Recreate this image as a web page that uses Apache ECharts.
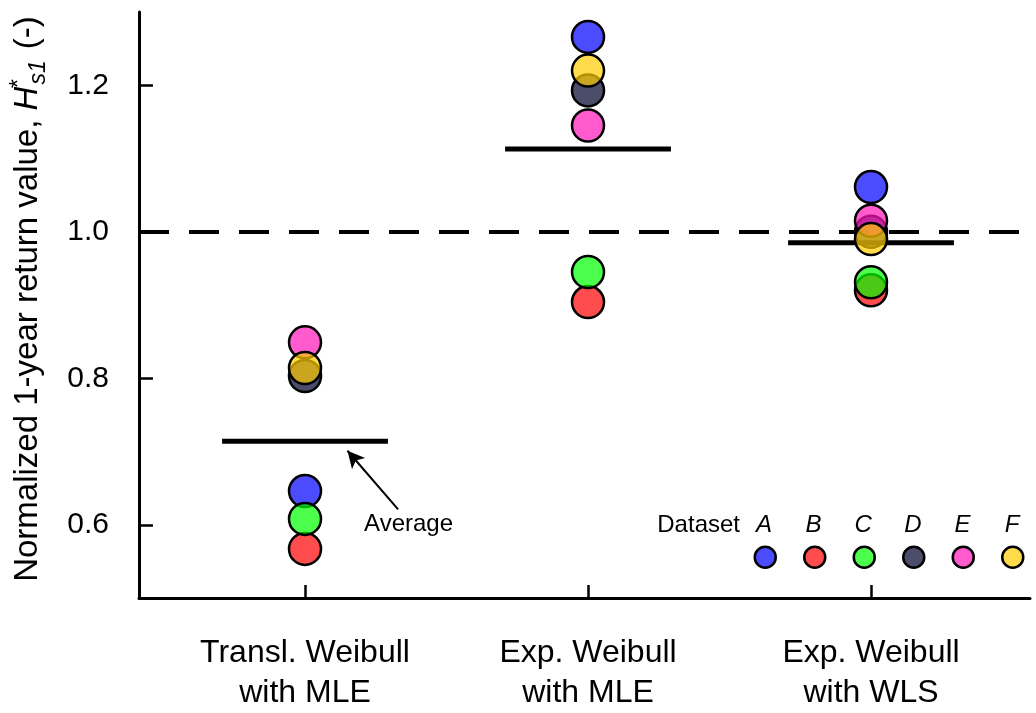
<!DOCTYPE html>
<html><head><meta charset="utf-8">
<script src="https://cdn.jsdelivr.net/npm/echarts@6/dist/echarts.min.js"></script>
<style>html,body{margin:0;padding:0;background:#fff}#c{width:1036px;height:713px}</style>
</head><body><div id="c"></div>
<script>
const categories = ['Transl. Weibull\nwith MLE', 'Exp. Weibull\nwith MLE', 'Exp. Weibull\nwith WLS'];
const categoryPos = [1, 2, 3];
const datasetNames = ['A', 'B', 'C', 'D', 'E', 'F'];
const datasetColors = ['rgba(0,0,255,0.7)', 'rgba(255,0,0,0.7)', 'rgba(0,255,0,0.7)',
                       'rgba(0,0,44,0.7)', 'rgba(255,22,186,0.7)', 'rgba(255,204,0,0.7)'];
const valuesA = [0.646, 1.266, 1.061];
const valuesB = [0.567, 0.904, 0.920];
const valuesC = [0.608, 0.945, 0.931];
const valuesD = [0.803, 1.193, 1.000];
const valuesE = [0.849, 1.145, 1.015];
const valuesF = [0.814, 1.220, 0.990];
const averages = [0.714, 1.113, 0.985];
const yTicks = [0.6, 0.8, 1.0, 1.2];
const referenceValue = 1.0;
const avgLabel = 'Average';
const legendTitle = 'Dataset';

const allValues = [valuesA, valuesB, valuesC, valuesD, valuesE, valuesF];
const FONT = 'Liberation Sans';
const halfWidth = 0.293;

const series = [];
averages.forEach((a, i) => {
  const s = {
    type: 'line', silent: true, symbol: 'none', z: 1,
    data: [[categoryPos[i] - halfWidth, a], [categoryPos[i] + halfWidth, a]],
    lineStyle: {color: '#000', width: 5}
  };
  if (i === 0) {
    s.markLine = {
      silent: true, symbol: 'none', label: {show: false},
      data: [
        {yAxis: referenceValue, lineStyle: {color: '#000', width: 4, type: [30, 20]}},
        [
          {coord: [1.329, 0.621], symbol: 'none'},
          {coord: [1.150, 0.701], symbol: 'arrow', symbolSize: [13, 17]}
        ]
      ],
      lineStyle: {color: '#000', width: 2, type: 'solid'}
    };
    s.markPoint = {
      silent: true,
      data: [{coord: [1.366, 0.6], symbol: 'rect', symbolSize: 1,
              itemStyle: {color: 'rgba(0,0,0,0)'},
              label: {show: true, position: 'inside', formatter: avgLabel,
                      fontSize: 24, color: '#000', fontFamily: FONT}}]
    };
  }
  series.push(s);
});
datasetNames.forEach((n, k) => {
  series.push({
    name: n, type: 'scatter', z: 3 + k, symbolSize: 32,
    data: categoryPos.map((x, i) => [x, allValues[k][i]]),
    itemStyle: {color: datasetColors[k], borderColor: '#000', borderWidth: 2.5, opacity: 1}
  });
});

const chart = echarts.init(document.getElementById('c'));
const legendLeft = 748.5, legendStep = 49.6;
chart.setOption({
  animation: false,
  backgroundColor: '#fff',
  grid: {left: 139, right: 6, top: 12, bottom: 113, containLabel: false},
  xAxis: {
    type: 'value', min: 0.4134, max: 3.5618,
    axisLine: {show: true, lineStyle: {color: '#000', width: 3}},
    axisTick: {show: true, inside: true, length: 13, lineStyle: {color: '#000', width: 2.5}, customValues: categoryPos},
    axisLabel: {customValues: categoryPos, formatter: v => categories[categoryPos.indexOf(Math.round(v))],
                fontSize: 32, lineHeight: 40, color: '#000', margin: 35, fontFamily: FONT},
    splitLine: {show: false}
  },
  yAxis: {
    type: 'value', min: 0.5, max: 1.3,
    axisLine: {show: true, lineStyle: {color: '#000', width: 3}},
    axisTick: {show: true, inside: true, length: 14, lineStyle: {color: '#000', width: 2.5}, customValues: yTicks},
    axisLabel: {customValues: yTicks, formatter: v => v.toFixed(1), fontSize: 30, color: '#000', margin: 30, fontFamily: FONT},
    splitLine: {show: false},
    name: '{a|Normalized 1-year return value, }{i|H}{st|*}{sb|s1}{a| (-)}',
    nameLocation: 'middle', nameGap: 89,
    nameTextStyle: {
      fontFamily: FONT, color: '#000', fontSize: 33, padding: [0, 0, 0, 12],
      rich: {
        a: {fontSize: 33, fontFamily: FONT, color: '#000', lineHeight: 44},
        i: {fontSize: 33, fontFamily: FONT, fontStyle: 'italic', color: '#000', lineHeight: 44},
        st: {fontSize: 23, fontFamily: FONT, fontStyle: 'italic', color: '#000', verticalAlign: 'top', width: 0, align: 'left', padding: [2, 0, 0, 2]},
        sb: {fontSize: 23, fontFamily: FONT, fontStyle: 'italic', color: '#000', verticalAlign: 'bottom', padding: [0, 2, 0, 0]}
      }
    }
  },
  legend: {
    data: datasetNames, left: legendLeft, top: 540.5, orient: 'horizontal',
    itemWidth: 21, itemHeight: 21, itemGap: 26, icon: 'circle', selectedMode: false,
    formatter: () => '', textStyle: {fontSize: 1},
    itemStyle: {borderColor: '#000', borderWidth: 2.5}
  },
  graphic: [
    {type: 'text', x: 740, y: 525, style: {text: legendTitle, fontSize: 24, fontFamily: FONT, fill: '#000', textAlign: 'right', textVerticalAlign: 'middle'}}
  ].concat(datasetNames.map((n, k) => ({
    type: 'text', x: legendLeft + 15.5 + k * legendStep, y: 525,
    style: {text: n, fontSize: 24, fontFamily: FONT, fontStyle: 'italic', fill: '#000', textAlign: 'center', textVerticalAlign: 'middle'}
  }))),
  series: series
});
</script></body></html>
